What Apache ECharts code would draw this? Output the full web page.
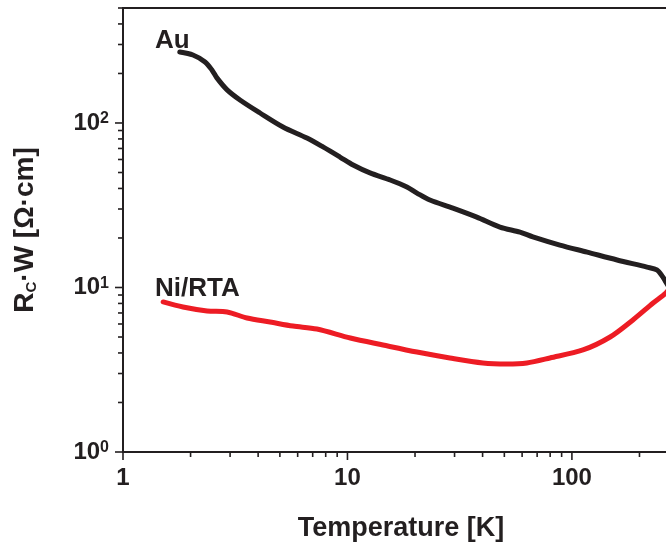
<!DOCTYPE html>
<html>
<head>
<meta charset="utf-8">
<script src="https://cdn.jsdelivr.net/npm/echarts@6/dist/echarts.min.js"></script>
<style>
  html, body { margin: 0; padding: 0; background: #fff; }
  #chart { width: 666px; height: 543px; }
</style>
</head>
<body>
<div id="chart"></div>
<script>
// Contact resistance × width versus temperature, log–log.
const auTemp = [1.79, 2.05, 2.32, 2.49, 2.62, 2.91, 3.32, 4.08, 5.16, 6.60, 7.78, 9.26, 10.6, 12.6, 15.5, 18.4, 20.4, 23.3, 29.5, 37.7, 47.8, 58.7, 67.0, 88.4, 117, 159, 216, 239, 254, 262, 279];
const auRc   = [270, 259, 235, 210, 188, 159, 138, 115, 94.6, 81.0, 71.5, 62.1, 55.5, 49.7, 45.0, 40.8, 37.5, 34.0, 30.4, 26.8, 23.3, 21.7, 20.3, 18.1, 16.4, 14.7, 13.3, 12.8, 11.6, 10.8, 9.4];

const niTemp = [1.51, 1.85, 2.37, 2.91, 3.57, 4.52, 5.72, 7.31, 10.3, 14.4, 20.4, 28.6, 40.1, 51.3, 63.0, 79.8, 112, 148, 187, 230, 262, 279];
const niRc   = [8.17, 7.61, 7.20, 7.10, 6.52, 6.17, 5.83, 5.59, 4.93, 4.47, 4.05, 3.73, 3.48, 3.43, 3.48, 3.73, 4.17, 5.00, 6.35, 8.05, 9.26, 10.3];

// Axis ranges and tick positions
const xRange = [1, 300];
const yRange = [1, 500];
const xTicks = [1, 2, 3, 4, 5, 6, 7, 8, 9, 10, 20, 30, 40, 50, 60, 70, 80, 90, 100, 200, 300];
const yTicks = [1, 2, 3, 4, 5, 6, 7, 8, 9, 10, 20, 30, 40, 50, 60, 70, 80, 90, 100, 200, 300, 400, 500];

const INK = '#231f20';
const RED = '#ed1c24';
const FONT = 'Arial, "Liberation Sans", sans-serif';

function isDecade(v) {
  const e = Math.round(Math.log10(v));
  return Math.abs(Math.pow(10, e) - v) < 1e-6 * v;
}

function zip(a, b) { return a.map((v, i) => [v, b[i]]); }

// Tick marks drawn through the axes' own log scales (major = decades)
function tickRenderer(dir) {
  return function (params, api) {
    const v = api.value(dir === 'x' ? 0 : 1);
    const p = dir === 'x' ? api.coord([v, yRange[0]]) : api.coord([xRange[0], v]);
    const len = isDecade(v) ? 8 : 5;
    const shape = dir === 'x'
      ? { x1: p[0], y1: p[1], x2: p[0], y2: p[1] + len }
      : { x1: p[0], y1: p[1], x2: p[0] - len, y2: p[1] };
    return { type: 'line', shape: shape, style: { stroke: INK, lineWidth: 1.6 } };
  };
}

const chart = echarts.init(document.getElementById('chart'), null, { renderer: 'canvas' });
chart.setOption({
  animation: false,
  backgroundColor: '#fff',
  grid: {
    left: 123, top: 8, width: 556, height: 444,
    outerBoundsMode: 'none', containLabel: false,
    show: true, borderColor: INK, borderWidth: 2, backgroundColor: 'transparent'
  },
  xAxis: {
    type: 'log', logBase: 10, min: xRange[0], max: xRange[1],
    axisLine: { lineStyle: { color: INK, width: 2 } },
    axisTick: { show: false },
    splitLine: { show: false },
    axisLabel: {
      margin: 14, color: INK, fontFamily: FONT, fontWeight: 'bold', fontSize: 24,
      formatter: v => isDecade(v) ? String(Math.round(v)) : ''
    },
    name: 'Temperature [K]', nameLocation: 'middle', nameGap: 63,
    nameTextStyle: { color: INK, fontFamily: FONT, fontWeight: 'bold', fontSize: 27 }
  },
  yAxis: {
    type: 'log', logBase: 10, min: yRange[0], max: yRange[1],
    axisLine: { lineStyle: { color: INK, width: 2 } },
    axisTick: { show: false },
    splitLine: { show: false },
    axisLabel: {
      margin: 14, color: INK,
      formatter: v => isDecade(v) ? '{b|10}{s|' + Math.round(Math.log10(v)) + '}' : '',
      rich: {
        b: { fontFamily: FONT, fontWeight: 'bold', fontSize: 24, color: INK },
        s: { fontFamily: FONT, fontWeight: 'bold', fontSize: 16, color: INK, verticalAlign: 'top' }
      }
    },
    name: '{a|R}{c|C}{a|·W [Ω·cm]}', nameLocation: 'middle', nameGap: 84, nameRotate: 90,
    nameTextStyle: {
      color: INK,
      rich: {
        a: { fontFamily: FONT, fontWeight: 'bold', fontSize: 28, color: INK },
        c: { fontFamily: FONT, fontWeight: 'bold', fontSize: 15, color: INK, verticalAlign: 'bottom' }
      }
    }
  },
  series: [
    {
      name: 'Ni/RTA', type: 'line', data: zip(niTemp, niRc),
      showSymbol: false, smooth: 0.3, z: 3,
      lineStyle: { color: RED, width: 5, cap: 'round', join: 'round' }
    },
    {
      name: 'Au', type: 'line', data: zip(auTemp, auRc),
      showSymbol: false, smooth: 0.3, z: 4,
      lineStyle: { color: INK, width: 5, cap: 'round', join: 'round' }
    },
    {
      type: 'custom', clip: false, silent: true, z: 5,
      data: xTicks.map(v => [v, yRange[0]]),
      renderItem: tickRenderer('x')
    },
    {
      type: 'custom', clip: false, silent: true, z: 5,
      data: yTicks.map(v => [xRange[0], v]),
      renderItem: tickRenderer('y')
    }
  ],
  graphic: [
    { type: 'text', left: 155, top: 28, style: { text: 'Au', font: 'bold 26px ' + FONT, fill: INK } },
    { type: 'text', left: 155, top: 276, style: { text: 'Ni/RTA', font: 'bold 26px ' + FONT, fill: INK } }
  ]
});
</script>
</body>
</html>
